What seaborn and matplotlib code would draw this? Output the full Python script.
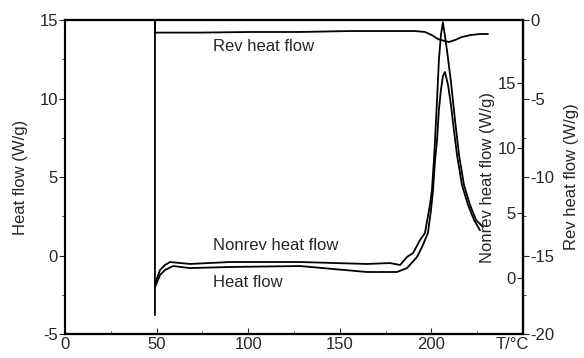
import pandas as pd
import matplotlib.pyplot as plt
from matplotlib.ticker import MultipleLocator, FixedLocator
import seaborn as sns

# === Values (T in °C, flows in W/g) ===
temp_hf = [49.1, 51.9, 54.6, 59.0, 68.2, 90.1, 128.3, 164.8, 181.2, 186.7, 192.1,
           194.9, 198.1, 199.8, 200.9, 202.0, 203.1, 204.1, 205.2, 206.3, 207.4,
           209.1, 210.7, 212.3, 214.0, 216.7, 220.0, 223.3, 226.5]
heat_flow = [-2.01, -1.24, -0.92, -0.67, -0.80, -0.73, -0.67, -1.05, -1.05, -0.80, -0.10,
             0.54, 1.43, 2.90, 4.17, 6.08, 7.36, 9.27, 10.54, 11.43, 11.69,
             10.86, 9.59, 7.99, 6.40, 4.49, 3.22, 2.26, 1.62]

temp_nonrev = [49.1, 51.9, 54.6, 57.3, 68.2, 90.1, 128.3, 164.8, 177.4, 182.9, 186.7,
               190.0, 193.8, 196.5, 199.2, 200.3, 201.4, 202.0, 203.1, 204.1, 205.2,
               206.3, 208.5, 210.7, 212.9, 215.1, 217.8, 221.1, 224.4, 228.2]
nonrev_flow = [-0.46, 0.62, 1.00, 1.23, 1.08, 1.23, 1.23, 1.08, 1.15, 1.00, 1.62,
               1.92, 2.92, 3.46, 5.62, 6.77, 9.08, 10.62, 13.69, 16.77, 18.69,
               19.69, 17.54, 15.08, 12.15, 9.46, 7.15, 5.62, 4.46, 3.92]

temp_rev = [49.1, 49.1, 49.1, 73.7, 101.0, 128.3, 155.6, 191.0, 196.5, 200.3, 203.6,
            207.4, 209.6, 212.9, 216.7, 221.1, 226.5, 230.9]
rev_flow = [-18.8, 0.0, -0.80, -0.80, -0.76, -0.76, -0.70, -0.70, -0.76, -0.96, -1.21,
            -1.34, -1.40, -1.27, -1.08, -0.96, -0.89, -0.89]

hf_df = pd.DataFrame({"T": temp_hf, "flow": heat_flow})
nr_df = pd.DataFrame({"T": temp_nonrev, "flow": nonrev_flow})
rev_df = pd.DataFrame({"T": temp_rev, "flow": rev_flow})

# === Style ===
sns.set_style("ticks")
plt.rcParams["font.family"] = ["Liberation Sans", "DejaVu Sans"]
plt.rcParams["font.size"] = 12
plt.rcParams["axes.unicode_minus"] = False

fig = plt.figure(figsize=(5.84, 3.58), dpi=100)
ax = fig.add_axes([0.1113, 0.067, 0.7842, 0.877])
ax_nr = ax.twinx()
ax_rev = ax.twinx()

line_kw = dict(x="T", y="flow", color="black", linewidth=1.3, sort=False, estimator=None)
sns.lineplot(data=hf_df, ax=ax, **line_kw)
sns.lineplot(data=nr_df, ax=ax_nr, **line_kw)
sns.lineplot(data=rev_df, ax=ax_rev, **line_kw)

# === Main axis ===
ax.set_xlim(0, 250)
ax.set_ylim(-5, 15)
ax.xaxis.set_major_locator(FixedLocator([0, 50, 100, 150, 200]))
ax.xaxis.set_minor_locator(FixedLocator([25, 75, 125, 175, 225]))
ax.yaxis.set_major_locator(MultipleLocator(5))
ax.yaxis.set_minor_locator(MultipleLocator(2.5))
ax.tick_params(axis="x", which="both", direction="in", pad=2, labelsize=12)
ax.tick_params(axis="x", which="major", length=4)
ax.tick_params(axis="x", which="minor", length=2)
ax.tick_params(axis="y", which="major", direction="out", length=4, pad=1, labelsize=12)
ax.tick_params(axis="y", which="minor", direction="out", length=2)
ax.set_xlabel("")
ax.set_ylabel("Heat flow (W/g)", fontsize=12, labelpad=8)
ax.annotate("T/°C", xy=(1, 0), xycoords="axes fraction", xytext=(-11, -3),
            textcoords="offset pixels", ha="center", va="top", fontsize=12)

# === Nonrev axis: ticks on the left side of the right spine ===
ax_nr.set_ylim(-4.31, 19.85)
ax_nr.spines["left"].set_position(("axes", 1.0))
ax_nr.yaxis.set_ticks_position("left")
ax_nr.yaxis.set_label_position("left")
ax_nr.set_yticks([0, 5, 10, 15])
ax_nr.tick_params(axis="y", direction="out", length=4, pad=1, labelsize=12)
ax_nr.set_ylabel("Nonrev heat flow (W/g)", fontsize=12, labelpad=2)

# === Rev axis on the right ===
ax_rev.set_ylim(-20, 0)
ax_rev.yaxis.set_major_locator(MultipleLocator(5))
ax_rev.yaxis.set_minor_locator(MultipleLocator(2.5))
ax_rev.tick_params(axis="y", which="major", direction="out", length=4, pad=1, labelsize=12)
ax_rev.tick_params(axis="y", which="minor", direction="out", length=2)
ax_rev.set_ylabel("Rev heat flow (W/g)", fontsize=12, labelpad=7)

for a in (ax, ax_nr, ax_rev):
    for sp in a.spines.values():
        sp.set_linewidth(1.5)
        sp.set_color("black")

# === Curve labels ===
ax.text(80.6, 13.3, "Rev heat flow", va="center", ha="left", fontsize=12)
ax.text(80.6, 0.67, "Nonrev heat flow", va="center", ha="left", fontsize=12)
ax.text(80.6, -1.7, "Heat flow", va="center", ha="left", fontsize=12)

plt.savefig("out.png", dpi=100)
plt.close()
